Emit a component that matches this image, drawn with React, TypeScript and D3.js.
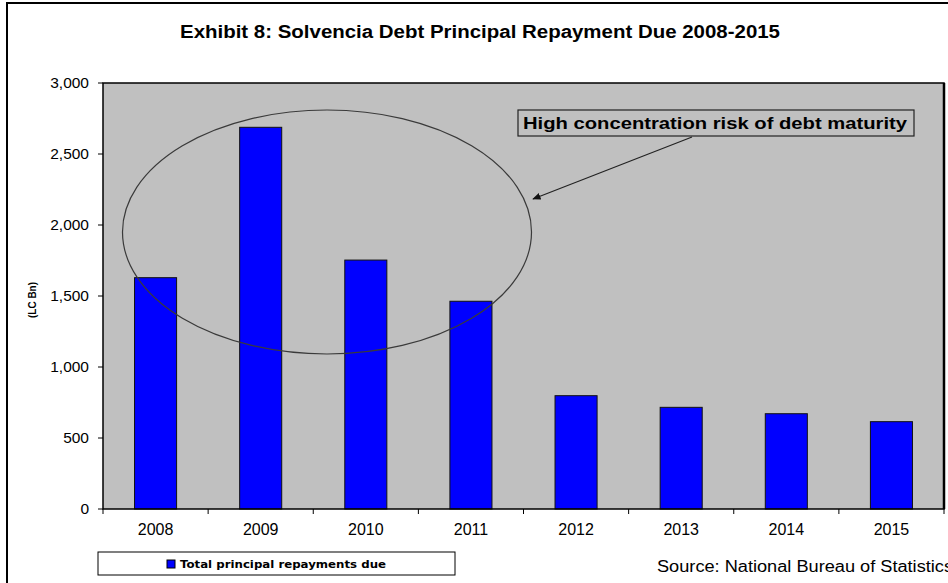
import React from 'react';
import * as d3 from 'd3';

const years = ['2008', '2009', '2010', '2011', '2012', '2013', '2014', '2015'];
const repayments = [1629, 2688, 1753, 1463, 798, 716, 671, 615];
const yTicks = [0, 500, 1000, 1500, 2000, 2500, 3000];

const W = 948;
const H = 583;
const plot = { left: 103, right: 944, top: 83, bottom: 509 };
const FONT = 'Arial, "Liberation Sans", sans-serif';

export default function App() {
  const x = d3.scaleBand<string>().domain(years).range([plot.left, plot.right]).padding(0);
  const y = d3.scaleLinear().domain([0, 3000]).range([plot.bottom, plot.top]);
  const barW = x.bandwidth() * 0.4;
  const fmt = d3.format(',');
  const boundaries = years.map((yr) => x(yr) as number).concat([plot.right]);

  // annotation geometry
  const ell = { cx: 327, cy: 232, rx: 204.5, ry: 122 };
  const note = { x: 518, y: 110, w: 396, h: 26 };
  const arrowFrom = [692, 137];
  const arrowTo = [533, 199];

  return (
    <svg
      width={W}
      height={H}
      style={{ position: 'absolute', left: 0, top: 0, background: '#fff' }}
      fontFamily={FONT}
    >
      <defs>
        <marker id="arrowHead" viewBox="0 0 10 10" refX="9" refY="5" markerWidth="7" markerHeight="7" orient="auto">
          <path d="M0,1 L10,5 L0,9 Z" fill="#111" />
        </marker>
      </defs>

      {/* outer frame, cropped at right/bottom */}
      <rect x={7} y={3} width={W + 20} height={H + 20} fill="#fff" stroke="#000" strokeWidth={2} />

      <text
        x={180}
        y={38}
        fontSize={17.5}
        fontWeight="bold"
        fill="#000"
        textLength={600}
        lengthAdjust="spacingAndGlyphs"
      >
        Exhibit 8: Solvencia Debt Principal Repayment Due 2008-2015
      </text>

      {/* plot area */}
      <rect
        x={plot.left}
        y={plot.top}
        width={plot.right - plot.left}
        height={plot.bottom - plot.top}
        fill="#c0c0c0"
      />

      {years.map((yr, i) => (
        <rect
          key={yr}
          x={(x(yr) as number) + (x.bandwidth() - barW) / 2}
          y={y(repayments[i])}
          width={barW}
          height={plot.bottom - y(repayments[i])}
          fill="#0000ff"
          stroke="#111"
          strokeWidth={1}
        />
      ))}

      <rect
        x={plot.left}
        y={plot.top}
        width={plot.right - plot.left}
        height={plot.bottom - plot.top}
        fill="none"
        stroke="#000"
        strokeWidth={1.5}
      />
      <line x1={plot.right} x2={plot.right} y1={plot.top} y2={plot.bottom} stroke="#000" strokeWidth={2.5} />

      {/* y axis */}
      {yTicks.map((t) => (
        <g key={t}>
          <line x1={plot.left - 5} x2={plot.left} y1={y(t)} y2={y(t)} stroke="#000" strokeWidth={1} />
          <text x={89} y={y(t)} dy="0.35em" textAnchor="end" fontSize={15.5} fill="#000">
            {fmt(t)}
          </text>
        </g>
      ))}
      <text
        transform={`translate(36, ${(plot.top + plot.bottom) / 2 + 4}) rotate(-90)`}
        textAnchor="middle"
        fontSize={10}
        fontWeight="bold"
        fill="#000"
      >
        (LC Bn)
      </text>

      {/* x axis */}
      {boundaries.map((bx, i) => (
        <line key={i} x1={bx} x2={bx} y1={plot.bottom} y2={plot.bottom + 5} stroke="#000" strokeWidth={1} />
      ))}
      {years.map((yr) => (
        <text
          key={yr}
          x={(x(yr) as number) + x.bandwidth() / 2}
          y={535}
          textAnchor="middle"
          fontSize={16}
          fill="#000"
        >
          {yr}
        </text>
      ))}

      {/* annotation */}
      <ellipse cx={ell.cx} cy={ell.cy} rx={ell.rx} ry={ell.ry} fill="none" stroke="#3a3a3a" strokeWidth={1.2} />
      <line
        x1={arrowFrom[0]}
        y1={arrowFrom[1]}
        x2={arrowTo[0]}
        y2={arrowTo[1]}
        stroke="#222"
        strokeWidth={1.2}
        markerEnd="url(#arrowHead)"
      />
      <rect x={note.x} y={note.y} width={note.w} height={note.h} fill="#c0c0c0" stroke="#222" strokeWidth={1.2} />
      <text
        x={note.x + 5}
        y={note.y + 19}
        fontSize={17}
        fontWeight="bold"
        fill="#000"
        textLength={384}
        lengthAdjust="spacingAndGlyphs"
      >
        High concentration risk of debt maturity
      </text>

      {/* legend */}
      <rect x={98} y={552} width={357} height={23} fill="#fff" stroke="#000" strokeWidth={1} />
      <rect x={167} y={560} width={8} height={8} fill="#0000ff" stroke="#000" strokeWidth={1} />
      <text
        x={180}
        y={568}
        fontSize={11}
        fontWeight="bold"
        fontFamily='"DejaVu Sans", Verdana, sans-serif'
        fill="#000"
        textLength={206}
        lengthAdjust="spacingAndGlyphs"
      >
        Total principal repayments due
      </text>

      <text x={657} y={572} fontSize={16} fill="#000" textLength={296} lengthAdjust="spacingAndGlyphs">
        Source: National Bureau of Statistics
      </text>
    </svg>
  );
}
